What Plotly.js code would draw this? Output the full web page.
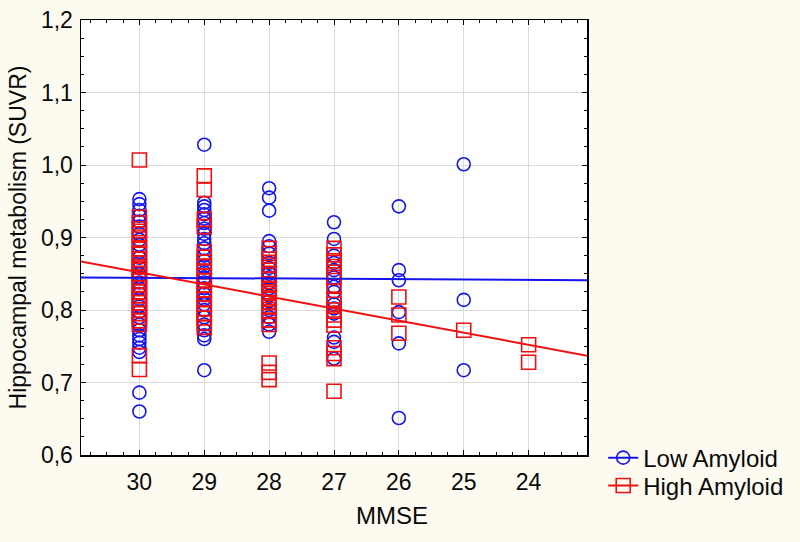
<!DOCTYPE html>
<html>
<head>
<meta charset="utf-8">
<script src="https://cdn.plot.ly/plotly-3.0.1.min.js"></script>
<style>body{margin:0;background:#FDFBF0;}#chart{width:800px;height:542px;}</style>
</head>
<body>
<div id="chart"></div>
<script>
// MMSE categories (x)
var mmseLevels = [30, 29, 28, 27, 26, 25, 24];
var xTickLabels = ["30", "29", "28", "27", "26", "25", "24"];

// Low Amyloid (blue circles) – hippocampal SUVR per MMSE score
var low30 = [0.953, 0.946, 0.938, 0.930, 0.922, 0.915, 0.905, 0.897, 0.890, 0.880, 0.872, 0.865, 0.858, 0.850, 0.845, 0.838, 0.830, 0.822, 0.815, 0.805, 0.798, 0.790, 0.780, 0.772, 0.765, 0.760, 0.755, 0.748, 0.742, 0.686, 0.660];
var low29 = [1.028, 0.948, 0.943, 0.938, 0.932, 0.926, 0.920, 0.912, 0.905, 0.898, 0.892, 0.885, 0.875, 0.868, 0.860, 0.852, 0.845, 0.838, 0.830, 0.822, 0.815, 0.808, 0.800, 0.790, 0.780, 0.772, 0.765, 0.760, 0.717];
var low28 = [0.968, 0.955, 0.937, 0.895, 0.888, 0.878, 0.865, 0.858, 0.850, 0.845, 0.838, 0.830, 0.820, 0.812, 0.800, 0.790, 0.780, 0.770];
var low27 = [0.921, 0.898, 0.875, 0.865, 0.855, 0.845, 0.832, 0.825, 0.808, 0.802, 0.795, 0.762, 0.756, 0.733];
var low26 = [0.943, 0.855, 0.841, 0.797, 0.754, 0.651];
var low25 = [1.001, 0.814, 0.717];
var low24 = [];

// High Amyloid (red squares)
var high30 = [1.007, 0.928, 0.920, 0.912, 0.905, 0.898, 0.890, 0.884, 0.877, 0.870, 0.865, 0.860, 0.855, 0.850, 0.845, 0.840, 0.835, 0.830, 0.825, 0.820, 0.815, 0.810, 0.805, 0.800, 0.795, 0.790, 0.785, 0.780, 0.737, 0.718];
var high29 = [0.985, 0.966, 0.925, 0.915, 0.880, 0.873, 0.866, 0.860, 0.853, 0.847, 0.840, 0.834, 0.828, 0.822, 0.815, 0.808, 0.802, 0.795, 0.789, 0.782, 0.776];
var high28 = [0.885, 0.878, 0.870, 0.862, 0.855, 0.848, 0.842, 0.836, 0.830, 0.825, 0.820, 0.815, 0.810, 0.804, 0.798, 0.792, 0.786, 0.780, 0.727, 0.714, 0.704];
var high27 = [0.885, 0.876, 0.868, 0.860, 0.852, 0.845, 0.833, 0.815, 0.808, 0.800, 0.793, 0.786, 0.779, 0.748, 0.740, 0.733, 0.688];
var high26 = [0.818, 0.793, 0.768];
var high25 = [0.772];
var high24 = [0.752, 0.728];

// Linear fit lines (endpoints just beyond the axis range)
var fitX = [31.5, 22.5];
var lowFit = [0.8453, 0.8407];
var highFit = [0.877, 0.727];

function flatten(groups) {
  var xs = [], ys = [];
  groups.forEach(function (g, i) {
    g.forEach(function (v) { xs.push(mmseLevels[i]); ys.push(v); });
  });
  return {x: xs, y: ys};
}
var low = flatten([low30, low29, low28, low27, low26, low25, low24]);
var high = flatten([high30, high29, high28, high27, high26, high25, high24]);

var BLUE = "#1414EE";
var RED = "#F01010";

var traces = [
  {x: low.x, y: low.y, type: "scatter", mode: "markers", showlegend: false, hoverinfo: "skip",
   marker: {symbol: "circle-open", size: 13, color: BLUE, line: {width: 1.6, color: BLUE}}},
  {x: high.x, y: high.y, type: "scatter", mode: "markers", showlegend: false, hoverinfo: "skip",
   marker: {symbol: "square-open", size: 14, color: RED, line: {width: 1.6, color: RED}}},
  {x: fitX, y: lowFit, type: "scatter", mode: "lines+markers", name: "Low Amyloid", legend: "legend",
   line: {color: BLUE, width: 2},
   marker: {symbol: "circle-open", size: 13, color: BLUE, line: {width: 1.6, color: BLUE}}},
  {x: fitX, y: highFit, type: "scatter", mode: "lines+markers", name: "High Amyloid", legend: "legend2",
   line: {color: RED, width: 2},
   marker: {symbol: "square-open", size: 14, color: RED, line: {width: 1.6, color: RED}}}
];

var FONT = "Liberation Sans, Arial, sans-serif";
var TXT = "#0a0a0a";

var legendBase = {
  x: 1.03, xanchor: "left", yanchor: "middle",
  bgcolor: "rgba(0,0,0,0)", font: {size: 24, family: FONT, color: TXT},
  itemwidth: 30
};

var layout = {
  width: 800, height: 542,
  paper_bgcolor: "#FDFBF0",
  plot_bgcolor: "#FFFFFF",
  separators: ", ",
  font: {family: FONT, size: 23, color: TXT},
  margin: {l: 81, r: 212, t: 20, b: 87},
  xaxis: {
    range: [30.9, 23.1],
    tickmode: "array", tickvals: mmseLevels, ticktext: xTickLabels,
    ticks: "inside", ticklen: 5, tickcolor: "#000",
    showgrid: true, gridcolor: "#DADADA", gridwidth: 1,
    zeroline: false,
    showline: true, linecolor: "#000", linewidth: 1.5, mirror: "allticks",
    ticklabelstandoff: 6,
    minor: {dtick: 0.25, tick0: 24, ticks: "inside", ticklen: 3, tickcolor: "#000", showgrid: false},
    tickfont: {size: 23, family: FONT, color: TXT}
  },
  yaxis: {
    range: [0.6, 1.2],
    dtick: 0.1, tick0: 0.6, tickformat: ".1f",
    ticks: "inside", ticklen: 5, tickcolor: "#000",
    showgrid: true, gridcolor: "#DADADA", gridwidth: 1,
    zeroline: false,
    showline: true, linecolor: "#000", linewidth: 1.5, mirror: "allticks",
    ticklabelstandoff: 2,
    minor: {dtick: 0.025, ticks: "inside", ticklen: 3, tickcolor: "#000", showgrid: false},
    tickfont: {size: 23, family: FONT, color: TXT},
    title: {text: "Hippocampal metabolism (SUVR)", font: {size: 23, family: FONT, color: TXT}, standoff: 8}
  },
  legend: Object.assign({}, legendBase, {y: -0.007}),
  legend2: Object.assign({}, legendBase, {y: -0.071}),
  annotations: [
    {text: "MMSE", xref: "paper", yref: "paper", x: 0.615, y: -0.14,
     xanchor: "center", yanchor: "middle", showarrow: false,
     font: {size: 24, family: FONT, color: TXT}}
  ]
};

Plotly.newPlot("chart", traces, layout, {displayModeBar: false, staticPlot: true});
</script>
</body>
</html>
